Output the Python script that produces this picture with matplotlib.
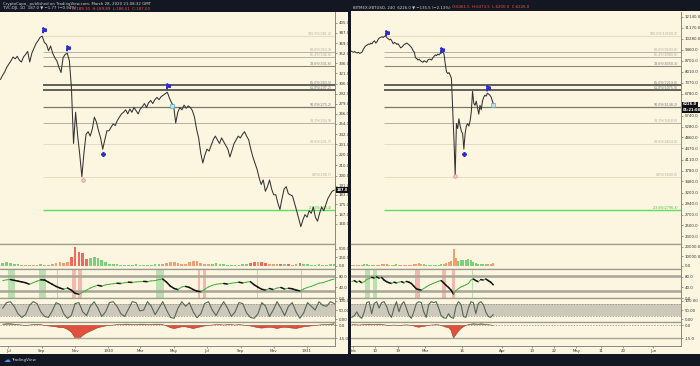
import numpy as np
import pandas as pd
import matplotlib
matplotlib.use('Agg')
import matplotlib.pyplot as plt
import matplotlib.dates as mdates
from matplotlib.ticker import FixedLocator, NullLocator

# ---------------- data: left panel (TVC:DJI, 1D, 1929-1931) ----------------
left_close = [312, 318, 323, 330,
              335, 340, 346, 343, 347, 341, 338, 346,
              350, 355, 338, 352, 360, 368, 373, 379,
              381, 370, 367, 356, 364, 352, 345, 340,
              330, 322, 345, 350, 352, 340, 300, 232,
              268, 240, 220, 199, 222, 242, 245, 240,
              248, 262, 256, 246, 238, 226, 236, 246,
              246, 250, 254, 252, 258, 262, 266, 268,
              271, 266, 272, 268, 274, 270, 266, 272,
              275, 279, 274, 280, 283, 279, 284, 287,
              284, 288, 290, 292, 294, 286, 280, 276,
              255, 268, 274, 271, 277, 273, 276, 274,
              270, 262, 248, 238, 222, 212, 220, 226,
              224, 230, 236, 240, 236, 232, 238, 234,
              230, 226, 218, 225, 232, 236, 240, 238,
              242, 245, 240, 236, 226, 218, 212, 206,
              198, 192, 196, 186, 190, 196, 188, 183,
              183, 176, 171, 180, 188, 190, 184, 183,
              182, 176, 170, 164, 158, 163, 167, 165,
              170, 168, 173, 165, 162, 168, 173, 170,
              175, 180, 183, 186, 187]
left_start, left_end = '1929-06-17', '1931-02-20'
left_fib_lo, left_fib_hi = 198.7, 381.2
left_fib_from = '1929-09-03'

left_flags_d = ['1929-09-05', '1929-10-19', '1930-04-20']
left_flags_p = [392, 360, 302]
left_cross = ('1929-12-22', 221)
left_circle = ('1929-11-15', 196)
left_teal = ('1930-04-28', 276)

# weekly lower-pane series
left_vol = [80, 110, 90, 60, 40,
            30, 25, 30, 20, 30, 40, 35, 30,
            60, 90, 110, 80, 120,
            250, 560, 420, 380, 200,
            240, 260, 220, 180, 120,
            60, 50, 40, 30, 30, 25, 30, 40, 30, 25, 30, 35, 40, 50,
            60, 90, 120, 100, 70,
            40, 50, 110, 150, 130, 90, 60, 40,
            60, 70, 50, 40, 30, 25,
            30, 35, 40, 50,
            90, 110, 120, 100, 80, 60,
            50, 40, 50, 60, 40, 30, 50, 70, 60,
            40, 30, 30, 40, 35, 30, 50, 60]
left_vol_dir = list('ggggg' + 'gogoggog' + 'ooooo' + 'rrrrr' + 'ggggg' + 'gggggggggggggg'
                    + 'ooooo' + 'oooooooo' + 'gggggg' + 'gggg' + 'rrorro' + 'ogrgrogrg' + 'gggggggg')
left_rsi = [66, 69, 70, 67, 64, 61, 58, 52, 58, 64, 69, 68,
            60, 52, 44, 38, 33, 38, 30, 18, 14, 22, 30,
            38, 44, 48, 45, 50, 52, 54, 56, 55, 58, 60, 59, 61,
            62, 63, 62, 65, 66, 70, 72, 60, 45, 36, 32, 42,
            44, 40, 32, 26, 24, 33, 42, 48, 52, 54, 55,
            53, 56, 58, 60, 57, 60, 62, 50, 41, 33, 30,
            36, 32, 38, 40, 34, 37, 35, 30, 27,
            34, 40, 44, 50, 56, 58, 63, 68, 72]
left_stoch = [60, 90, 95, 70, 30, 10, 25, 75, 95, 85, 40, 15, 10, 45, 90, 80, 30, 5, 20, 85,
              90, 40, 20, 70, 95, 60, 15, 40, 90, 95, 70, 30, 15, 55, 95, 90, 45, 50, 95, 70,
              25, 60, 95, 50, 10, 5, 60, 95, 70, 90, 40, 8, 30, 85, 95, 50, 20, 60, 95, 60,
              15, 40, 90, 85, 35, 10, 5, 30, 90, 70, 15, 50, 95, 60, 20, 70, 90, 40, 5, 35,
              90, 70, 50, 95, 75, 70, 95, 85]
left_macd = [1, 1.5, 1.5, 1, 0.5, 0, -0.5, 0, 0.5, 1, 0.5, -0.5, -1,
             -1.5, -2, -3, -3, -5, -8, -15,
             -16, -12, -9, -7, -5, -3, -2,
             -1, -0.5, 0, 0.5, 0.5, 1, 1, 0.5, 0.5, 1, 1, 0.5, 0.5, 1,
             1, 0.5, -1, -3, -4, -3, -2, -2, -3, -4, -3, -2, -1,
             -0.5, 0, 0.5, 0.5, 0, 0.5, 0.5, 0, 0.5, 0, -0.5, -1,
             -2, -3, -3.5, -3, -2.5, -3, -4, -3, -2.5, -3, -3.5, -4, -3, -2,
             -1.5, -1, -0.5, 0, 0.5, 0.5, 1, 1.5]
left_lower_start, left_lower_end = '1929-06-21', '1931-02-20'
left_green_bands = [('1929-07-01', '1929-07-14'), ('1929-08-27', '1929-09-08'), ('1930-03-29', '1930-04-13')]
left_red_bands = [('1929-09-29', '1929-10-01'), ('1929-10-26', '1929-11-02'), ('1929-11-07', '1929-11-13'),
                  ('1930-06-14', '1930-06-18'), ('1930-06-24', '1930-06-30'), ('1930-10-02', '1930-10-03'),
                  ('1930-10-15', '1930-10-16'), ('1930-10-23', '1930-10-24'), ('1930-11-14', '1930-11-15'),
                  ('1930-12-21', '1930-12-22')]
left_ticks = [160, 167, 175, 183, 191, 200, 210, 220, 231, 242, 254, 266, 279, 292, 306, 321, 336, 352, 369, 387, 405]
left_date_ticks = ['1929-07-01', '1929-09-01', '1929-11-01', '1930-01-01', '1930-03-01', '1930-05-01',
                   '1930-07-01', '1930-09-01', '1930-11-01', '1931-01-01']
left_date_labels = ['Jul', 'Sep', 'Nov', '1930', 'Mar', 'May', 'Jul', 'Sep', 'Nov', '1931']

# ---------------- data: right panel (BITMEX:XBTUSD, 240, 2020) ----------------
right_close = [9370, 9320, 9280, 9330, 9260, 9230, 9280, 9200, 9240, 9300,
               9500, 9650, 9750, 9800, 9880, 9850,
               9950, 9900, 10050, 10120, 9950, 10050,
               10250, 10350, 10400, 10450, 10380, 10480, 10500, 10350,
               10300, 10200, 10250, 10100, 9900, 10000,
               9950, 9850, 9900, 9750, 9600, 9650,
               9750, 9850, 9900, 9950, 9880, 9800,
               9700, 9600, 9400, 9300,
               8900, 8850, 8750, 8800, 8700, 8650,
               8600, 8700, 8650, 8600, 8750, 8800,
               8800, 8750, 8900, 9000, 9100, 9050, 9150, 9100,
               9200, 9250, 9300, 9150,
               8500, 8000, 7900, 7950,
               7800, 7600, 6000, 4800,
               3650, 5400, 5200, 5600, 5300, 5100,
               5000, 4450, 5000, 5300,
               5400, 5300, 5500, 5900,
               6900, 6300, 6200, 6400,
               6100, 5800, 6200, 6000,
               6400, 6600, 6700, 6650,
               6800, 6750, 6700, 6600,
               6400, 6250]
right_start = '2020-01-31 04:00'
right_fib_lo, right_fib_hi = 3600, 10500
right_fib_from = '2020-02-13 12:00'

right_flags_d = ['2020-02-14 12:00', '2020-03-08 00:00', '2020-03-26 06:00']
right_flags_p = [10750, 9450, 7100]
right_cross = ('2020-03-16 18:00', 4300)
right_circle = ('2020-03-13 06:00', 3620)
right_teal = ('2020-03-28 08:00', 6240)

# daily lower-pane series
right_vol = [900, 1100, 800, 1000, 1200, 1500, 1300, 1000, 1100, 900, 1200, 1000, 1300, 1500,
             1400, 1100, 1000, 1200, 1300, 1100, 900, 1000, 800, 900, 1100, 1400,
             2200, 2400, 1600, 1300, 1100, 1200, 1000, 1100, 900, 1000, 1400,
             2000, 3000, 3600, 4500,
             17500, 8500, 5000,
             5600, 6200, 5800, 6600, 6000, 4200,
             2600, 2100, 1900, 2300, 1700, 1800, 1500, 2600]
right_vol_dir = (['o'] * 5 + ['g'] * 5 + ['o'] * 6 + ['g'] * 3 + ['o'] * 7 + ['o'] * 3 + ['g'] * 8
                 + ['o'] * 4 + ['o', 'o', 'g'] + ['g'] * 6 + ['g'] * 5 + ['o'] * 3)
right_rsi = [62, 66, 60, 64, 58, 62,
             70, 74, 78, 76, 80, 75, 78,
             68, 62, 58, 55, 60, 57,
             60, 62, 58, 63, 60, 55,
             45, 35, 32, 30,
             36, 42, 48, 52, 56, 60, 64, 66,
             58, 48, 40, 30, 15,
             28, 36, 42, 46, 50, 55,
             68, 72, 66, 62, 70, 68, 72, 66,
             60, 50]
right_stoch = [10, 20, 40, 15, 5, 40, 90, 95, 30, 85, 95, 60, 90, 95, 70, 30, 10, 60, 95, 40,
               80, 95, 60, 20, 5, 40, 85, 95, 90, 40, 10, 80, 95, 90, 95, 60, 20, 8, 5, 30,
               10, 5, 70, 95, 80, 15, 10, 60, 95, 90, 30, 85, 95, 80, 40, 15, 10, 25]
right_macd = [0.3, 0.5, 0.2, 0, 0.3, 0.6, 0.8, 1, 0.8, 0.6, 0.9, 1, 0.7, 0.3, -0.2, -0.5, -0.3, 0,
              -0.2, -0.4, -0.3, 0, 0.2, -0.1,
              -0.5, -1, -2, -2.5, -2, -1.5, -1, -0.5, 0, 0.2, 0.4, 0.2, -0.5, -1.5, -2.5, -3,
              -6, -15, -11, -7, -4, -2, -0.5, 0.5,
              1, 1.5, 1.2, 1, 1.5, 1.2, 0.8, 0.5, 0, -0.5]
right_lower_start = '2020-01-31 12:00'
right_green_bands = [('2020-02-06', '2020-02-08'), ('2020-02-09', '2020-02-10 12:00'), ('2020-03-20', '2020-03-20 08:00')]
right_red_bands = [('2020-02-26', '2020-02-28'), ('2020-03-08', '2020-03-09 12:00'), ('2020-03-12', '2020-03-13 06:00')]
right_ticks = [2300, 2500, 2700, 2940, 3200, 3480, 3780, 4110, 4470, 4860, 5280, 5740,
               6240, 6780, 7370, 8010, 8700, 9460, 10280, 11170, 12140]
right_date_ticks = ['2020-02-01', '2020-02-10', '2020-02-19', '2020-03-01', '2020-03-16', '2020-04-01',
                    '2020-04-13', '2020-04-22', '2020-05-01', '2020-05-11', '2020-05-20', '2020-06-01']
right_date_labels = ['Feb', '10', '19', 'Mar', '16', 'Apr', '13', '22', 'May', '11', '20', 'Jun']

fib_levels = [1.0, 0.886, 0.854, 0.786, 0.65, 0.618, 0.5, 0.382, 0.236, 0.0, -0.236]
fib_colors = ['#e8dcc0', '#aaa69a', '#aaa69a', '#8a8678', '#55544c', '#55544c', '#7a766a',
              '#b4b0a2', '#dcd6c2', '#eadcc0', '#5fe05a']
fib_widths = [0.8, 0.6, 0.6, 0.8, 1.3, 1.3, 0.9, 0.7, 0.6, 0.7, 1.0]

# ---------------- figure ----------------
BG = '#131722'
CREAM = '#fcf6e1'
SEP = '#9c9a8c'
W, H = 700, 366
fig = plt.figure(figsize=(7, 3.66), dpi=100, facecolor=BG)


def px_axes(x, y, w, h):
    return fig.add_axes([x / W, 1 - (y + h) / H, w / W, h / H])


def d2n(d):
    return mdates.date2num(pd.Timestamp(d).to_pydatetime())


def style_pane(ax, xlim):
    ax.set_facecolor(CREAM)
    ax.set_xlim(*xlim)
    ax.spines['left'].set_visible(False)
    for s in ['top', 'bottom']:
        ax.spines[s].set_color(SEP)
        ax.spines[s].set_linewidth(0.9)
    ax.spines['right'].set_color('#777')
    ax.spines['right'].set_linewidth(0.6)
    ax.yaxis.tick_right()
    ax.tick_params(axis='y', labelsize=2.8, length=1.5, width=0.4, pad=1, colors='#555', labelcolor='#333')
    ax.tick_params(axis='x', bottom=False, labelbottom=False)


def background(x, y, w, h):
    ax = px_axes(x, y, w, h)
    ax.set_facecolor(CREAM)
    ax.set_xticks([])
    ax.set_yticks([])
    for s in ax.spines.values():
        s.set_visible(False)
    ax.set_zorder(-1)


ROWS = {'main': (12, 232), 'vol': (244, 25), 'rsi': (269, 29), 'stoch': (298, 24), 'macd': (322, 24)}
COLS = [(0, 335), (351, 330)]
background(0, 12, 348, 342)
background(351, 11, 349, 343)


def draw_panel(col, close, dates, fib_lo, fib_hi, fib_from, ticks, fmt,
               flags_d, flags_p, cross, circle, teal,
               low_dates, vol, vol_dir, vol_w, vol_ylim, vol_ticks, vol_fmt,
               rsi, green_bands, red_bands, stoch, macd,
               xlim, date_ticks, date_labels, last_label):
    x0, w = COLS[col]
    xl = (d2n(xlim[0]), d2n(xlim[1]))
    px = mdates.date2num(dates.to_pydatetime())
    lx = mdates.date2num(low_dates.to_pydatetime())

    # ---- main price pane (log scale, fib anchored) ----
    ax = px_axes(x0, ROWS['main'][0], w, ROWS['main'][1])
    style_pane(ax, xl)
    ax.spines['top'].set_visible(False)
    ax.set_yscale('log')
    r = np.log(fib_hi / fib_lo)
    ax.set_ylim(fib_lo * np.exp(-r * 67 / 141), fib_hi * np.exp(r * 24 / 141))
    ax.yaxis.set_major_locator(FixedLocator(ticks))
    ax.yaxis.set_minor_locator(NullLocator())
    ax.set_yticklabels([fmt.format(t) for t in ticks])
    xf = d2n(fib_from)
    for lev, c, lw in zip(fib_levels, fib_colors, fib_widths):
        p = fib_lo * (fib_hi / fib_lo) ** lev
        ax.hlines(p, xf, xl[1], color=c, lw=lw, zorder=1)
        tc = '#3fbf3a' if lev < 0 else ('#777' if lev in (0.65, 0.618, 0.5, 0.786) else '#b0aa98')
        ax.text(0.992, p, '{:.1f}%({})'.format(lev * 100, fmt.format(p)), transform=ax.get_yaxis_transform(),
                ha='right', va='bottom', fontsize=2.3, color=tc, zorder=2)
    ax.plot(px, close, color='#333333', lw=0.75, zorder=3)
    ax.plot([d2n(d) for d in flags_d], flags_p, ls='none', marker='$\u2691$', color='#2b2bd0', ms=3.3, zorder=4)
    ax.plot(d2n(cross[0]), cross[1], marker='P', color='#2b2bd0', ms=2.6, ls='none', zorder=4)
    ax.plot(d2n(circle[0]), circle[1], marker='o', mfc='#f6c7c7', mec='#e07a7a', mew=0.4, ms=2.6, ls='none', zorder=4)
    ax.plot(d2n(teal[0]), teal[1], marker='s', mfc='#bfe3ea', mec='#3aa4b8', mew=0.4, ms=2.3, ls='none', zorder=4)
    for i, txt in enumerate(last_label):
        ax.annotate(txt, xy=(1.0, close[-1]), xycoords=('axes fraction', 'data'),
                    xytext=(1.5, -4.2 * i), textcoords='offset points', ha='left', va='center',
                    fontsize=2.6, color='white', fontweight='bold', annotation_clip=False,
                    bbox=dict(boxstyle='square,pad=0.2', fc='#111', ec='none'))

    # ---- volume pane ----
    ax = px_axes(x0, ROWS['vol'][0], w, ROWS['vol'][1])
    style_pane(ax, xl)
    cmap = {'g': '#7fcf7a', 'r': '#ef6a5a', 'o': '#f0a070'}
    ax.bar(lx, vol, width=vol_w, color=[cmap[c] for c in vol_dir], lw=0)
    ax.set_ylim(*vol_ylim)
    ax.set_yticks(vol_ticks)
    ax.set_yticklabels([vol_fmt.format(t) for t in vol_ticks])

    # ---- rsi pane ----
    ax = px_axes(x0, ROWS['rsi'][0], w, ROWS['rsi'][1])
    style_pane(ax, xl)
    ax.set_ylim(0, 110)
    for a, b in green_bands:
        ax.axvspan(d2n(a), d2n(b), color='#9fd89a', alpha=0.7, lw=0)
    for a, b in red_bands:
        ax.axvspan(d2n(a), d2n(b), color='#f2a8a2', alpha=0.8, lw=0)
    ax.axhline(82, color='#a8a698', lw=1.8)
    ax.axhline(27, color='#a8a698', lw=1.8)
    for i in range(1, len(rsi)):
        up = rsi[i] >= rsi[i - 1]
        ax.plot(lx[i - 1:i + 1], rsi[i - 1:i + 1], color='#3fae3a' if up else '#111',
                lw=0.7 if up else 1.1, solid_capstyle='round')
    ax.set_yticks([0, 40, 80])
    ax.set_yticklabels(['0.0', '40.0', '80.0'])

    # ---- stochastic pane ----
    ax = px_axes(x0, ROWS['stoch'][0], w, ROWS['stoch'][1])
    style_pane(ax, xl)
    ax.set_ylim(-15, 115)
    ax.axhspan(20, 80, color='#cdc9ba', lw=0)
    ax.axhline(80, color='#8a887c', lw=0.5, ls=(0, (2, 2)))
    ax.axhline(20, color='#8a887c', lw=0.5, ls=(0, (2, 2)))
    ax.plot(lx, stoch, color='#56675a', lw=0.8)
    ax.set_yticks([0, 50, 100])
    ax.set_yticklabels(['0.00', '50.00', '100.00'])

    # ---- macd pane ----
    ax = px_axes(x0, ROWS['macd'][0], w, ROWS['macd'][1])
    style_pane(ax, xl)
    ax.set_ylim(-24, 3.5)
    m = np.array(macd, dtype=float)
    ax.fill_between(lx, m, 0, where=m < 0, color='#e0503c', lw=0, interpolate=True)
    ax.fill_between(lx, m, 0, where=m >= 0, color='#7aa86a', lw=0, interpolate=True)
    ax.plot(lx, m, color='#9a3b2c', lw=0.4)
    ax.axhline(0, color='#8a887c', lw=0.5, ls=(0, (2, 2)))
    ax.axhline(-15, color='#a8a698', lw=1.0)
    ax.set_yticks([-15, 0])
    ax.set_yticklabels(['-15.0', '0.0'])
    ax.spines['bottom'].set_color('#777')
    ax.spines['bottom'].set_linewidth(0.6)
    ax.set_xticks([d2n(d) for d in date_ticks])
    ax.set_xticklabels(date_labels)
    ax.tick_params(axis='x', bottom=True, labelbottom=True, labelsize=2.8, length=1.2, width=0.4,
                   pad=1.2, colors='#555', labelcolor='#333')


draw_panel(0, left_close, pd.date_range(left_start, left_end, periods=len(left_close)),
           left_fib_lo, left_fib_hi, left_fib_from, left_ticks, '{:.1f}',
           left_flags_d, left_flags_p, left_cross, left_circle, left_teal,
           pd.date_range(left_lower_start, left_lower_end, periods=len(left_vol)),
           left_vol, left_vol_dir, 5, (-100, 650), [0, 250, 500], '{:.1f}',
           left_rsi, left_green_bands, left_red_bands, left_stoch, left_macd,
           ('1929-06-16', '1931-02-21 12:00'), left_date_ticks, left_date_labels, ['187.0'])

draw_panel(1, right_close, pd.date_range(right_start, periods=len(right_close), freq='12h'),
           right_fib_lo, right_fib_hi, right_fib_from, right_ticks, '{:.1f}',
           right_flags_d, right_flags_p, right_cross, right_circle, right_teal,
           pd.date_range(right_lower_start, periods=len(right_vol), freq='1D'),
           right_vol, right_vol_dir, 0.8, (-3500, 23000), [0, 10000, 20000], '{:.1f}',
           right_rsi, right_green_bands, right_red_bands, right_stoch, right_macd,
           ('2020-01-31 04:00', '2020-06-12 05:00'), right_date_ticks, right_date_labels,
           ['6226.0', '01:21:08'])

# ---------------- header / footer ----------------
fig.text(3 / W, 1 - 3.5 / H, 'CryptoCapo_ published on TradingView.com, March 28, 2020 21:08:32 GMT',
         fontsize=2.8, color='#d1d4dc', va='center')
fig.text(3 / W, 1 - 8.5 / H, 'TVC:DJI, 1D  187.0 \u25bc \u22121.77 (\u22120.94%)',
         fontsize=2.8, color='#d1d4dc', va='center')
fig.text(72 / W, 1 - 8.5 / H, 'O:189.10  H:189.89  L:186.51  C:187.00',
         fontsize=2.8, color='#ef5350', va='center')
fig.text(353 / W, 1 - 7.5 / H, 'BITMEX:XBTUSD, 240  6226.0 \u25bc \u2212135.5 (\u22122.13%)',
         fontsize=2.8, color='#d1d4dc', va='center')
fig.text(452 / W, 1 - 7.5 / H, 'O:6361.5  H:6373.5  L:6200.0  C:6226.0',
         fontsize=2.8, color='#ef5350', va='center')
fig.text(4 / W, 1 - 360 / H, '\u2601', fontsize=5, color='#4f8ff7', va='center')
fig.text(11 / W, 1 - 360 / H, 'TradingView', fontsize=3, color='#d1d4dc', va='center')

fig.savefig('out.png', dpi=100, facecolor=BG)
